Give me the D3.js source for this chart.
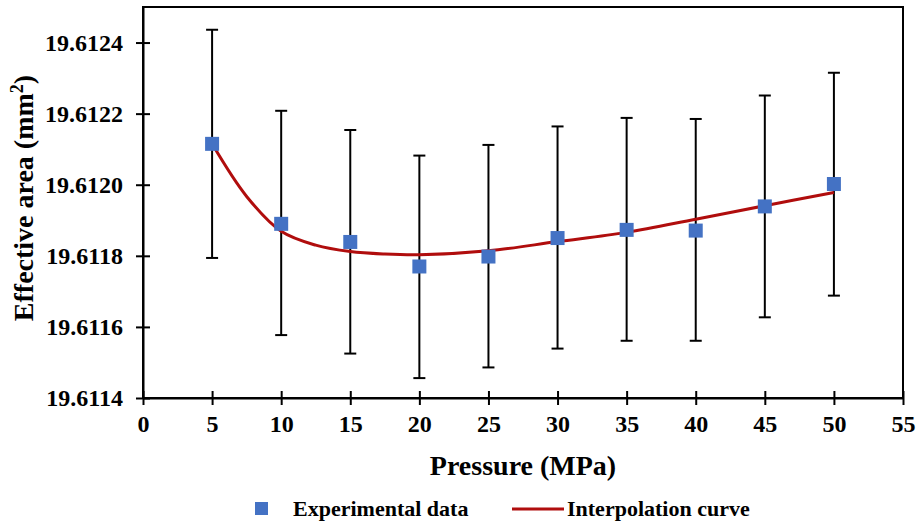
<!DOCTYPE html>
<html>
<head>
<meta charset="utf-8">
<script src="https://cdn.jsdelivr.net/npm/d3@7"></script>
</head>
<body style="margin:0">
<script>
const WIDTH = 918;
const HEIGHT = 524;
const LEFT = 143, RIGHT = 903, TOP = 7, BOTTOM = 398;
const FONT = "Liberation Serif";

// experimental data
const pressure = [5, 10, 15, 20, 25, 30, 35, 40, 45, 50];
const area = [19.612115, 19.611890, 19.611839, 19.611770, 19.611798, 19.611850, 19.611873, 19.611871, 19.611939, 19.612002];
const errTop = [19.612436, 19.612208, 19.612154, 19.612082, 19.612112, 19.612164, 19.612188, 19.612185, 19.612251, 19.612315];
const errBottom = [19.611794, 19.611577, 19.611525, 19.611456, 19.611486, 19.611539, 19.611561, 19.611561, 19.611627, 19.611688];

// interpolation curve
const curveX = [5, 7.5, 10, 12.5, 15, 17.5, 20, 25, 30, 35, 40, 45, 50];
const curveY = [19.612115, 19.611967, 19.611869, 19.611830, 19.611812, 19.611805, 19.611803, 19.611814, 19.611840, 19.611866, 19.611903, 19.611941, 19.611978];

const xTicks = [0, 5, 10, 15, 20, 25, 30, 35, 40, 45, 50, 55];
const yTicks = [19.6114, 19.6116, 19.6118, 19.6120, 19.6122, 19.6124];

let svg = d3.select("body").append("svg")
    .attr("width", WIDTH)
    .attr("height", HEIGHT)
    .attr("font-family", FONT)
    .attr("font-weight", "bold");

let xscale = d3.scaleLinear().domain([0, 55]).range([LEFT, RIGHT]);
let yscale = d3.scaleLinear().domain([19.6114, 19.6125]).range([BOTTOM, TOP]);

// frame
svg.append("rect")
    .attr("x", LEFT).attr("y", TOP)
    .attr("width", RIGHT - LEFT).attr("height", BOTTOM - TOP)
    .attr("fill", "none").attr("stroke", "#000").attr("stroke-width", 2);

// axes, ticks crossing the line
let xAxis = d3.axisBottom(xscale).tickValues(xTicks).tickSize(0).tickPadding(12);
let xg = svg.append("g").attr("transform", "translate(0," + BOTTOM + ")").call(xAxis);
xg.selectAll(".tick").append("line").attr("y1", -7).attr("y2", 7).attr("stroke", "#000").attr("stroke-width", 2);

let yAxis = d3.axisLeft(yscale).tickValues(yTicks).tickSize(0).tickPadding(20).tickFormat(d3.format(".4f"));
let yg = svg.append("g").attr("transform", "translate(" + LEFT + ",0)").call(yAxis);
yg.selectAll(".tick").append("line").attr("x1", -7).attr("x2", 7).attr("stroke", "#000").attr("stroke-width", 2);

xg.attr("font-family", FONT).attr("font-size", 24);
yg.attr("font-family", FONT).attr("font-size", 24);
svg.selectAll(".domain").attr("stroke", "#000").attr("stroke-width", 2);
svg.selectAll(".tick text").attr("fill", "#000");
xg.selectAll(".tick text").attr("dy", "0.9em");

// error bars
let bars = svg.append("g").attr("stroke", "#000").attr("stroke-width", 2);
pressure.forEach((p, i) => {
    let x = xscale(p);
    bars.append("line").attr("x1", x).attr("x2", x).attr("y1", yscale(errTop[i])).attr("y2", yscale(errBottom[i]));
    bars.append("line").attr("x1", x - 6).attr("x2", x + 6).attr("y1", yscale(errTop[i])).attr("y2", yscale(errTop[i]));
    bars.append("line").attr("x1", x - 6).attr("x2", x + 6).attr("y1", yscale(errBottom[i])).attr("y2", yscale(errBottom[i]));
});

// curve
let line = d3.line()
    .x((d, i) => xscale(curveX[i]))
    .y(d => yscale(d))
    .curve(d3.curveCatmullRom.alpha(0.5));

svg.append("path")
    .datum(curveY)
    .attr("fill", "none")
    .attr("stroke", "#B00D0D")
    .attr("stroke-width", 3)
    .attr("d", line);

// points
svg.selectAll(".pt").data(pressure).enter().append("rect")
    .attr("x", d => xscale(d) - 7)
    .attr("y", (d, i) => yscale(area[i]) - 7)
    .attr("width", 14).attr("height", 14)
    .attr("fill", "#4472C4");

// axis titles
svg.append("text").attr("x", (LEFT + RIGHT) / 2).attr("y", 475)
    .attr("text-anchor", "middle").attr("font-size", 28)
    .text("Pressure (MPa)");

let yt = svg.append("text").attr("transform", "translate(33,198) rotate(-90)")
    .attr("text-anchor", "middle").attr("font-size", 28);
yt.append("tspan").text("Effective area (mm");
yt.append("tspan").attr("dy", -10).attr("font-size", 18).text("2");
yt.append("tspan").attr("dy", 10).text(")");

// legend
let lg = svg.append("g").attr("font-size", 22);
lg.append("rect").attr("x", 255).attr("y", 502).attr("width", 13).attr("height", 13).attr("fill", "#4472C4");
lg.append("text").attr("x", 293).attr("y", 516).text("Experimental data");
lg.append("line").attr("x1", 512).attr("x2", 564).attr("y1", 509).attr("y2", 509).attr("stroke", "#B00D0D").attr("stroke-width", 3);
lg.append("text").attr("x", 567).attr("y", 516).text("Interpolation curve");
</script>
</body>
</html>
